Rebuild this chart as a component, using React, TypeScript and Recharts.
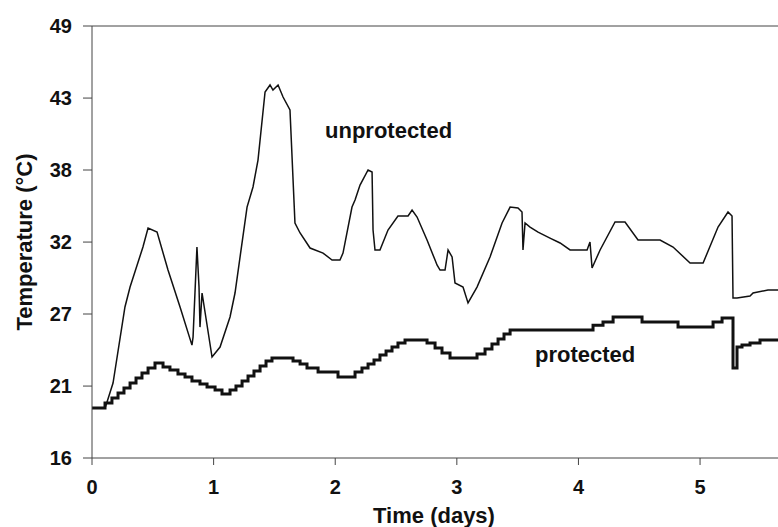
import React from "react";
import {
  LineChart,
  Line,
  XAxis,
  YAxis,
  ReferenceLine,
} from "recharts";

// Temperature over time (x in days, y in °C)
const unprotected = [
  { t: 0, c: 19.41 },
  { t: 0.107, c: 19.41 },
  { t: 0.121, c: 19.8 },
  { t: 0.173, c: 21.34 },
  { t: 0.271, c: 27.21 },
  { t: 0.313, c: 28.75 },
  { t: 0.419, c: 31.84 },
  { t: 0.461, c: 33.3 },
  { t: 0.535, c: 32.99 },
  { t: 0.625, c: 30.06 },
  { t: 0.724, c: 27.21 },
  { t: 0.822, c: 24.27 },
  { t: 0.831, c: 24.89 },
  { t: 0.863, c: 31.84 },
  { t: 0.88, c: 28.75 },
  { t: 0.888, c: 25.66 },
  { t: 0.905, c: 28.29 },
  { t: 0.987, c: 23.35 },
  { t: 1.053, c: 24.12 },
  { t: 1.135, c: 26.44 },
  { t: 1.176, c: 28.29 },
  { t: 1.275, c: 34.92 },
  { t: 1.324, c: 36.47 },
  { t: 1.365, c: 38.55 },
  { t: 1.423, c: 43.8 },
  { t: 1.464, c: 44.34 },
  { t: 1.488, c: 43.95 },
  { t: 1.53, c: 44.34 },
  { t: 1.571, c: 43.41 },
  { t: 1.628, c: 42.41 },
  { t: 1.669, c: 33.69 },
  { t: 1.711, c: 32.92 },
  { t: 1.793, c: 31.76 },
  { t: 1.9, c: 31.37 },
  { t: 1.974, c: 30.83 },
  { t: 2.039, c: 30.83 },
  { t: 2.064, c: 31.37 },
  { t: 2.138, c: 34.92 },
  { t: 2.163, c: 35.46 },
  { t: 2.204, c: 36.62 },
  { t: 2.27, c: 37.78 },
  { t: 2.303, c: 37.62 },
  { t: 2.311, c: 33.15 },
  { t: 2.327, c: 31.61 },
  { t: 2.368, c: 31.61 },
  { t: 2.434, c: 33.15 },
  { t: 2.516, c: 34.23 },
  { t: 2.599, c: 34.23 },
  { t: 2.632, c: 34.69 },
  { t: 2.673, c: 34.15 },
  { t: 2.755, c: 32.38 },
  { t: 2.821, c: 30.83 },
  { t: 2.837, c: 30.45 },
  { t: 2.862, c: 30.06 },
  { t: 2.903, c: 30.06 },
  { t: 2.928, c: 31.61 },
  { t: 2.961, c: 31.07 },
  { t: 2.985, c: 29.06 },
  { t: 3.051, c: 28.75 },
  { t: 3.092, c: 27.52 },
  { t: 3.166, c: 28.75 },
  { t: 3.273, c: 31.07 },
  { t: 3.372, c: 33.69 },
  { t: 3.438, c: 34.92 },
  { t: 3.503, c: 34.85 },
  { t: 3.536, c: 34.54 },
  { t: 3.544, c: 31.61 },
  { t: 3.561, c: 33.69 },
  { t: 3.602, c: 33.38 },
  { t: 3.668, c: 32.99 },
  { t: 3.766, c: 32.53 },
  { t: 3.849, c: 32.15 },
  { t: 3.931, c: 31.61 },
  { t: 4.071, c: 31.61 },
  { t: 4.095, c: 32.22 },
  { t: 4.112, c: 30.22 },
  { t: 4.178, c: 31.61 },
  { t: 4.301, c: 33.77 },
  { t: 4.383, c: 33.77 },
  { t: 4.49, c: 32.38 },
  { t: 4.671, c: 32.38 },
  { t: 4.778, c: 31.84 },
  { t: 4.918, c: 30.6 },
  { t: 5.025, c: 30.6 },
  { t: 5.148, c: 33.38 },
  { t: 5.23, c: 34.54 },
  { t: 5.263, c: 34.23 },
  { t: 5.271, c: 27.9 },
  { t: 5.304, c: 27.9 },
  { t: 5.411, c: 28.06 },
  { t: 5.436, c: 28.29 },
  { t: 5.559, c: 28.52 },
  { t: 5.641, c: 28.52 },
];

// stepped logger trace (each point starts a new step)
const protectedSeries = [
  { t: 0, c: 19.41 },
  { t: 0.107, c: 19.8 },
  { t: 0.164, c: 20.19 },
  { t: 0.214, c: 20.57 },
  { t: 0.263, c: 20.96 },
  { t: 0.313, c: 21.34 },
  { t: 0.362, c: 21.73 },
  { t: 0.411, c: 22.11 },
  { t: 0.461, c: 22.5 },
  { t: 0.518, c: 22.89 },
  { t: 0.584, c: 22.58 },
  { t: 0.641, c: 22.35 },
  { t: 0.707, c: 22.04 },
  { t: 0.765, c: 21.81 },
  { t: 0.822, c: 21.5 },
  { t: 0.888, c: 21.27 },
  { t: 0.946, c: 21.04 },
  { t: 1.012, c: 20.8 },
  { t: 1.069, c: 20.49 },
  { t: 1.135, c: 20.8 },
  { t: 1.184, c: 21.11 },
  { t: 1.234, c: 21.5 },
  { t: 1.283, c: 21.88 },
  { t: 1.332, c: 22.27 },
  { t: 1.382, c: 22.66 },
  { t: 1.431, c: 23.04 },
  { t: 1.48, c: 23.27 },
  { t: 1.653, c: 23.04 },
  { t: 1.711, c: 22.81 },
  { t: 1.768, c: 22.5 },
  { t: 1.859, c: 22.19 },
  { t: 2.023, c: 21.81 },
  { t: 2.163, c: 22.19 },
  { t: 2.22, c: 22.5 },
  { t: 2.27, c: 22.81 },
  { t: 2.319, c: 23.12 },
  { t: 2.368, c: 23.5 },
  { t: 2.418, c: 23.81 },
  { t: 2.467, c: 24.12 },
  { t: 2.516, c: 24.43 },
  { t: 2.574, c: 24.66 },
  { t: 2.755, c: 24.43 },
  { t: 2.821, c: 24.04 },
  { t: 2.878, c: 23.66 },
  { t: 2.944, c: 23.27 },
  { t: 3.166, c: 23.58 },
  { t: 3.232, c: 23.97 },
  { t: 3.289, c: 24.35 },
  { t: 3.339, c: 24.74 },
  { t: 3.388, c: 25.12 },
  { t: 3.438, c: 25.43 },
  { t: 4.12, c: 25.81 },
  { t: 4.202, c: 26.05 },
  { t: 4.285, c: 26.44 },
  { t: 4.523, c: 26.05 },
  { t: 4.819, c: 25.66 },
  { t: 5.107, c: 26.05 },
  { t: 5.181, c: 26.36 },
  { t: 5.271, c: 22.5 },
  { t: 5.304, c: 24.12 },
  { t: 5.345, c: 24.27 },
  { t: 5.411, c: 24.43 },
  { t: 5.493, c: 24.66 },
  { t: 5.641, c: 24.66 },
];

const dayTicks = [0, 1, 2, 3, 4, 5];
// axis is in even 10°F steps, labelled in rounded °C
const tempTicks = [15.56, 21.11, 26.67, 32.22, 37.78, 43.33, 48.89];

const FONT = "'Liberation Sans', Arial, Helvetica, sans-serif";
const INK = "#111";
const AXIS = "#444";

const tickStyle = { fontSize: 20, fontWeight: 700, fill: INK, fontFamily: FONT };

export default function App() {
  return (
    <div style={{ position: "absolute", left: 0, top: 0, width: 778, height: 527, background: "#fff" }}>
      <LineChart
        width={778}
        height={527}
        margin={{ top: 26, right: 0, bottom: 0, left: 0 }}
      >
        <XAxis
          type="number"
          dataKey="t"
          domain={[0, 5.641]}
          ticks={dayTicks}
          allowDataOverflow
          height={69}
          tickSize={7}
          tickMargin={15}
          stroke={AXIS}
          tick={tickStyle}
        />
        <YAxis
          type="number"
          dataKey="c"
          domain={[15.56, 48.89]}
          ticks={tempTicks}
          allowDataOverflow
          width={92}
          tickSize={9}
          tickMargin={11}
          stroke={AXIS}
          tick={tickStyle}
          tickFormatter={(v: number) => String(Math.round(v))}
        />
        <ReferenceLine y={48.89} stroke={AXIS} strokeWidth={1} />
        <Line
          data={unprotected}
          dataKey="c"
          type="linear"
          stroke={INK}
          strokeWidth={1.5}
          dot={false}
          isAnimationActive={false}
        />
        <Line
          data={protectedSeries}
          dataKey="c"
          type="stepAfter"
          stroke={INK}
          strokeWidth={3}
          dot={false}
          isAnimationActive={false}
        />
      </LineChart>
      <svg
        width={778}
        height={527}
        style={{ position: "absolute", left: 0, top: 0, pointerEvents: "none" }}
      >
        <g fontFamily={FONT} fontWeight={700} fill={INK}>
          <text x={325} y={138} fontSize={22}>unprotected</text>
          <text x={535} y={362} fontSize={22}>protected</text>
          <text x={434} y={523} fontSize={22} textAnchor="middle">Time (days)</text>
          <text
            x={32}
            y={242}
            fontSize={22}
            textAnchor="middle"
            transform="rotate(-90 32 242)"
          >
            Temperature (°C)
          </text>
        </g>
      </svg>
    </div>
  );
}
